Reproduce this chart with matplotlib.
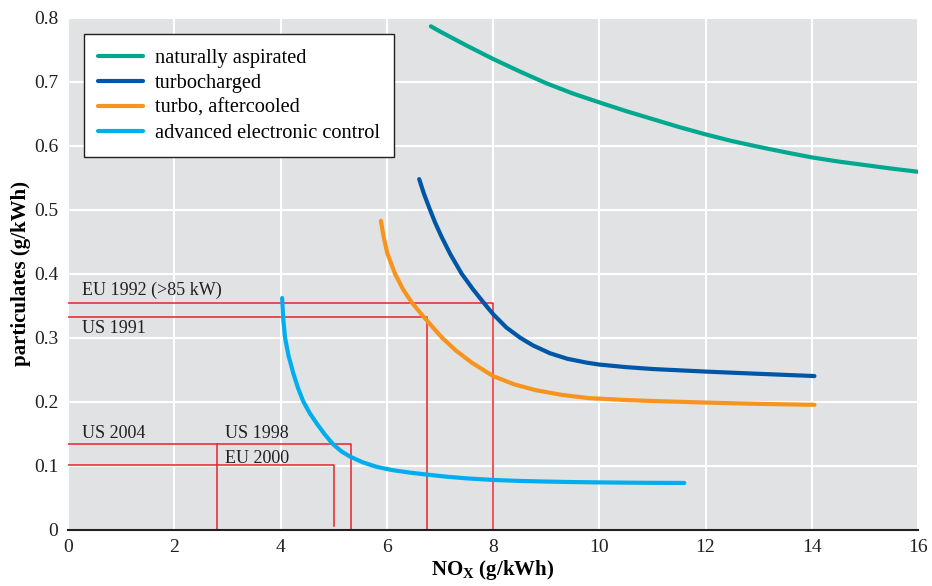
import numpy as np
import matplotlib
matplotlib.use('Agg')
import matplotlib.pyplot as plt

plt.rcParams['font.family'] = ['Liberation Serif', 'DejaVu Serif']
plt.rcParams['mathtext.fontset'] = 'custom'
plt.rcParams['mathtext.rm'] = 'Liberation Serif'
plt.rcParams['mathtext.bf'] = 'Liberation Serif:bold'

# engine curves: NOx (g/kWh) vs particulates (g/kWh)
nat_x = [6.83, 7.0, 7.25, 7.5, 7.75, 8.0, 8.5, 9.0, 9.5, 10.0, 10.5, 11.0, 11.5, 12.0,
         12.5, 13.0, 13.5, 14.0, 14.5, 15.0, 15.5, 16.0]
nat_y = [0.787, 0.779, 0.768, 0.757, 0.7465, 0.736, 0.7165, 0.698, 0.682, 0.668, 0.6545,
         0.642, 0.6295, 0.618, 0.6075, 0.5985, 0.590, 0.582, 0.5755, 0.570, 0.5645, 0.5595]

turbo_x = [6.61, 6.70, 6.80, 6.91, 7.03, 7.2, 7.41, 7.62, 7.85, 8.0, 8.25, 8.51, 8.75,
           9.07, 9.4, 9.76, 10.0, 10.5, 11.0, 12.0, 13.0, 14.05]
turbo_y = [0.548, 0.525, 0.503, 0.480, 0.458, 0.430, 0.400, 0.376, 0.352, 0.337, 0.316,
           0.300, 0.288, 0.2757, 0.267, 0.261, 0.258, 0.254, 0.251, 0.247, 0.2435, 0.240]

after_x = [5.89, 5.94, 6.01, 6.155, 6.31, 6.48, 6.68, 7.04, 7.3, 7.6, 8.0, 8.4, 8.8,
           9.3, 9.8, 10.5, 11.0, 12.0, 13.0, 14.05]
after_y = [0.483, 0.458, 0.432, 0.400, 0.375, 0.354, 0.334, 0.300, 0.280, 0.261, 0.240,
           0.227, 0.218, 0.2105, 0.2055, 0.2025, 0.201, 0.1985, 0.1965, 0.195]

elec_x = [4.03, 4.05, 4.085, 4.15, 4.24, 4.33, 4.43, 4.55, 4.68, 4.83, 4.99, 5.15, 5.31,
          5.55, 5.81, 6.1, 6.44, 6.8, 7.13, 7.5, 8.0, 8.5, 9.0, 9.5, 10.0, 10.5, 11.0, 11.6]
elec_y = [0.362, 0.330, 0.300, 0.272, 0.2445, 0.221, 0.200, 0.182, 0.166, 0.149, 0.1333,
          0.122, 0.114, 0.105, 0.098, 0.093, 0.0889, 0.0855, 0.0826, 0.080, 0.0775, 0.076,
          0.075, 0.0742, 0.0737, 0.0733, 0.073, 0.0728]

# emission limits (NOx, particulates)
eu1992 = (8.0, 0.354)
us1991 = (6.75, 0.333)
us1998 = (5.33, 0.134)
us2004 = (2.8, 0.134)
eu2000 = (5.0, 0.101)

series = [
    ('naturally aspirated', nat_x, nat_y, '#00a88f'),
    ('turbocharged', turbo_x, turbo_y, '#0056a6'),
    ('turbo, aftercooled', after_x, after_y, '#f7941d'),
    ('advanced electronic control', elec_x, elec_y, '#00aeef'),
]

fig = plt.figure(figsize=(9.32, 5.86), dpi=100)
ax = fig.add_axes([0.073, 0.0964, 0.912, 0.8729])
ax.set_facecolor('#e1e2e4')

red = '#e8232b'
lw_r = 1.1
# limit lines
ax.plot([0, eu1992[0], eu1992[0]], [eu1992[1], eu1992[1], 0], color=red, lw=lw_r)
ax.plot([0, us1991[0], us1991[0]], [us1991[1], us1991[1], 0], color=red, lw=lw_r)
ax.plot([0, us1998[0], us1998[0]], [us1998[1], us1998[1], 0], color=red, lw=lw_r)
ax.plot([us2004[0], us2004[0]], [us2004[1], 0], color=red, lw=lw_r)
ax.plot([0, eu2000[0], eu2000[0]], [eu2000[1], eu2000[1], 0.005], color=red, lw=lw_r)

fs = 13
tc = '#231f20'
ax.text(0.26, eu1992[1] + 0.006, 'EU 1992 (>85 kW)', fontsize=fs, color=tc, va='bottom')
ax.text(0.26, us1991[1] - 0.006, 'US 1991', fontsize=fs, color=tc, va='top')
ax.text(0.26, us2004[1] + 0.003, 'US 2004', fontsize=fs, color=tc, va='bottom')
ax.text(2.96, us1998[1] + 0.003, 'US 1998', fontsize=fs, color=tc, va='bottom')
ax.text(2.96, us1998[1] - 0.009, 'EU 2000', fontsize=fs, color=tc, va='top')

for name, xs, ys, c in series:
    ax.plot(xs, ys, color=c, lw=3.0, label=name, solid_capstyle='round',
            solid_joinstyle='round')

ax.set_xlim(0, 16)
ax.set_ylim(0, 0.8)
ax.set_xticks(np.arange(0, 17, 2))
ax.set_yticks(np.arange(0, 0.81, 0.1))
ax.set_yticklabels(['0', '0.1', '0.2', '0.3', '0.4', '0.5', '0.6', '0.7', '0.8'])
ax.grid(True, color='white', lw=1.5)
ax.set_axisbelow(True)
ax.tick_params(length=0, labelsize=14, colors=tc, pad=7)
for s in ['top', 'right', 'left']:
    ax.spines[s].set_visible(False)
ax.spines['bottom'].set_color(tc)
ax.spines['bottom'].set_linewidth(1.5)

ax.set_xlabel(r'NO$_\mathbf{X}$ (g/kWh)', fontsize=15, fontweight='bold', labelpad=1)
ax.set_ylabel('particulates (g/kWh)', fontsize=15, fontweight='bold', labelpad=2)

leg = ax.legend(loc='upper left', bbox_to_anchor=(0.019, 0.968), fontsize=14.7,
                frameon=True, fancybox=False, handlelength=2.2, handletextpad=0.55,
                labelspacing=0.28, borderpad=0.7, borderaxespad=0)
leg.get_frame().set_edgecolor(tc)
leg.get_frame().set_linewidth(1.0)
leg.get_frame().set_facecolor('white')
leg.get_frame().set_alpha(1)

fig.savefig('out.png', dpi=100)
